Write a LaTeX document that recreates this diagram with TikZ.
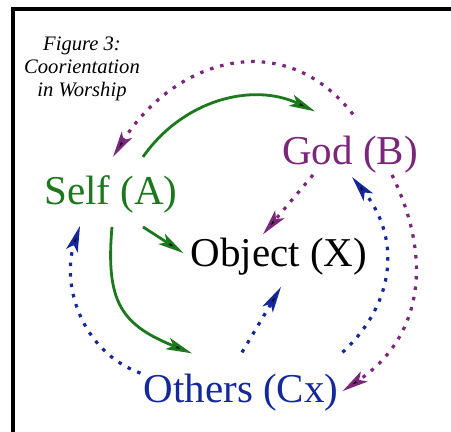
\documentclass[tikz,border=0pt]{standalone}
\usepackage{fontspec}
\setmainfont{Liberation Serif}
\usepackage{xcolor}
\usetikzlibrary{arrows.meta}

\definecolor{selfgreen}{RGB}{28,120,28}
\definecolor{godpurple}{RGB}{122,38,122}
\definecolor{otherblue}{RGB}{20,40,155}

\begin{document}
\begin{tikzpicture}[
  x=1pt, y=1pt,
  agent/.style={font=\fontsize{41}{46}\selectfont, inner sep=0pt, anchor=base},
  caption/.style={font=\fontsize{20.6}{23}\selectfont\itshape, align=center, inner sep=0pt, anchor=north},
  link/.style={-{Stealth[length=26pt,width=12pt,inset=6pt,fill=black,line width=2.6pt]}, line width=2.8pt},
  dots/.style={link, line width=3.2pt, dash pattern=on 3.5pt off 7pt},
  color=black
]
\useasboundingbox (0,0) rectangle (451,432);
\draw[line width=3.2pt] (13,0) |- (451,423);

\node[caption] (title) at (82,395) {Figure 3:\\Coorientation\\in Worship};

\node[agent, text=selfgreen] (self) at (111,227) {Self (A)};
\node[agent, text=godpurple] (god) at (350,267) {God (B)};
\node[agent] (object) at (279,165) {Object (X)};
\node[agent, text=otherblue] (others) at (241,29) {Others (Cx)};

% self
\draw[link, selfgreen] ([xshift=32pt,yshift=19pt]self.north) to[out=55,in=155] ([xshift=-35pt,yshift=25pt]god.north);
\draw[link, selfgreen] ([xshift=32pt,yshift=-13pt]self.south) -- ([xshift=-7pt,yshift=4pt]object.west);
\draw[link, selfgreen] ([xshift=1pt,yshift=-13pt]self.south) to[out=265,in=158,looseness=1.3] ([xshift=-49pt,yshift=21pt]others.north);

% god
\draw[dots, godpurple] ([xshift=3pt,yshift=22pt]god.north) to[out=128,in=58,looseness=1.2] ([xshift=2pt,yshift=19pt]self.north);
\draw[dots, godpurple] ([xshift=-37pt,yshift=-1pt]god.south) -- ([xshift=-16pt,yshift=4pt]object.north);
\draw[dots, godpurple] ([xshift=42pt,yshift=-1pt]god.south) to[out=296,in=34,looseness=1.1] ([xshift=4pt,yshift=2pt]others.east);

% others
\draw[dots, otherblue] ([xshift=-3pt,yshift=20pt]others.west) to[out=160,in=252] ([xshift=-31pt,yshift=-12pt]self.south);
\draw[dots, otherblue] ([xshift=1pt,yshift=22pt]others.north) -- ([xshift=2pt,yshift=-11pt]object.south);
\draw[dots, otherblue] ([xshift=4pt,yshift=22pt]others.north east) to[out=43,in=309,looseness=1.1] ([xshift=2pt,yshift=-3pt]god.south);
\end{tikzpicture}
\end{document}
